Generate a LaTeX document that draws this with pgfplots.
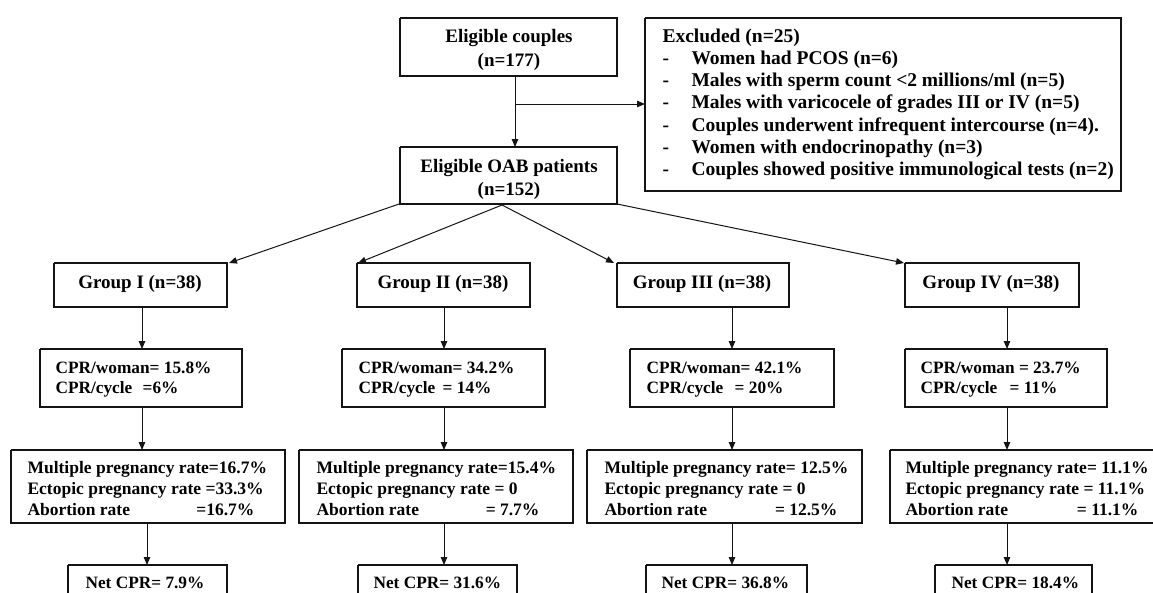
\documentclass[border=0pt]{standalone}
\usepackage{pgfplots}
\pgfplotsset{compat=1.18}
\usepackage{fontspec}
\setmainfont{Liberation Serif}
\usetikzlibrary{arrows.meta}
\definecolor{txt}{RGB}{22,22,40}
\definecolor{ln}{RGB}{20,20,20}
\newcommand\fb{\fontsize{19}{22}\selectfont\bfseries}
\newcommand\fe{\fontsize{19.5}{22}\selectfont\bfseries}
\newcommand\fs{\fontsize{17.3}{20}\selectfont\bfseries}
\newcommand\fm{\fontsize{17.5}{21}\selectfont\bfseries}
% box: x1 y1 x2 y2
\newcommand\flowbox[4]{\addplot[ln, line width=1.3pt, line join=miter] coordinates {(#1,#2) (#3,#2) (#3,#4) (#1,#4) (#1,#2)};}
\newcommand\flowarrow[4]{\addplot[ln, line width=1pt, -{Triangle[length=8pt,width=6.5pt]}] coordinates {(#1,#2) (#3,#4)};}
\begin{document}
\begin{tikzpicture}
\begin{axis}[name=ax, width=1153pt, height=592pt, scale only axis,
  xmin=0, xmax=1153, ymin=0, ymax=592, y dir=reverse,
  axis lines=none, clip=false,
  every node/.style={text=txt, inner sep=0pt}]
% ---------- boxes ----------
\flowbox{400}{18}{617}{76}
\flowbox{400}{147}{617}{204}
\flowbox{645}{18}{1121}{191}
\flowbox{54}{263}{227}{307}
\flowbox{357}{263}{530}{307}
\flowbox{617}{263}{789}{307}
\flowbox{905}{263}{1079}{307}
\flowbox{40}{349}{242}{407}
\flowbox{342}{349}{545}{407}
\flowbox{630}{349}{834}{407}
\flowbox{905}{349}{1107}{407}
\flowbox{11}{450}{285}{523}
\flowbox{299}{450}{573}{523}
\flowbox{587}{450}{862}{523}
\flowbox{890}{450}{1165}{523}
\flowbox{68}{565}{227}{612}
\flowbox{358}{565}{517}{612}
\flowbox{646}{565}{807}{612}
\flowbox{935}{565}{1092}{612}
% ---------- arrows ----------
\flowarrow{515}{76}{515}{147}
\flowarrow{515}{104}{645}{104}
\flowarrow{399}{204}{229}{263}
\flowarrow{502}{205}{358}{263}
\flowarrow{502}{205}{614}{263}
\flowarrow{617}{204}{904}{263}
\flowarrow{142}{307}{142}{349}
\flowarrow{444}{307}{444}{349}
\flowarrow{732}{307}{732}{349}
\flowarrow{1007}{307}{1007}{349}
\flowarrow{142}{407}{142}{450}
\flowarrow{444}{407}{444}{450}
\flowarrow{732}{407}{732}{450}
\flowarrow{1007}{407}{1007}{450}
\flowarrow{147}{523}{147}{565}
\flowarrow{444}{523}{444}{565}
\flowarrow{732}{523}{732}{565}
\flowarrow{1007}{523}{1007}{565}
% ---------- top texts ----------
\node[anchor=base, font=\fb] at (509,42) {Eligible couples};
\node[anchor=base, font=\fb] at (509,66) {(n=177)};
\node[anchor=base, font=\fb] at (509,172) {Eligible OAB patients};
\node[anchor=base, font=\fb] at (509,195) {(n=152)};
\node[anchor=base west, font=\fe] at (659,42) {Excluded (n=25)};
\node[anchor=base west, font=\fe] at (659,64.3) {-};
\node[anchor=base west, font=\fe] at (688,64.3) {Women had PCOS (n=6)};
\node[anchor=base west, font=\fe] at (659,86.6) {-};
\node[anchor=base west, font=\fe] at (688,86.6) {Males with sperm count <2 millions/ml (n=5)};
\node[anchor=base west, font=\fe] at (659,108.9) {-};
\node[anchor=base west, font=\fe] at (688,108.9) {Males with varicocele of grades III or IV (n=5)};
\node[anchor=base west, font=\fe] at (659,131.2) {-};
\node[anchor=base west, font=\fe] at (688,131.2) {Couples underwent infrequent intercourse (n=4).};
\node[anchor=base west, font=\fe] at (659,153.5) {-};
\node[anchor=base west, font=\fe] at (688,153.5) {Women with endocrinopathy (n=3)};
\node[anchor=base west, font=\fe] at (659,175.8) {-};
\node[anchor=base west, font=\fe] at (688,175.8) {Couples showed positive immunological tests (n=2)};
% ---------- groups ----------
\node[anchor=base, font=\fb] at (140,288) {Group I (n=38)};
\node[anchor=base, font=\fb] at (443,288) {Group II (n=38)};
\node[anchor=base, font=\fb] at (702,288) {Group III (n=38)};
\node[anchor=base, font=\fb] at (991,288) {Group IV (n=38)};
% ---------- CPR ----------
\node[anchor=base west, font=\fs] at (52,373) {CPR/woman= 15.8\%};
\node[anchor=base west, font=\fs] at (52,393) {CPR/cycle};
\node[anchor=base east, font=\fs] at (182,393) {=6\%};
\node[anchor=base west, font=\fs] at (355,373) {CPR/woman= 34.2\%};
\node[anchor=base west, font=\fs] at (355,393) {CPR/cycle};
\node[anchor=base east, font=\fs] at (495,393) {= 14\%};
\node[anchor=base west, font=\fs] at (643,373) {CPR/woman= 42.1\%};
\node[anchor=base west, font=\fs] at (643,393) {CPR/cycle};
\node[anchor=base east, font=\fs] at (787,393) {= 20\%};
\node[anchor=base west, font=\fs] at (917,373) {CPR/woman = 23.7\%};
\node[anchor=base west, font=\fs] at (917,393) {CPR/cycle};
\node[anchor=base east, font=\fs] at (1061,393) {= 11\%};
% ---------- Multiple ----------
\node[anchor=base west, font=\fm] at (24,473) {Multiple pregnancy rate=16.7\%};
\node[anchor=base west, font=\fm] at (24,494) {Ectopic pregnancy rate =33.3\%};
\node[anchor=base west, font=\fm] at (24,515) {Abortion rate};
\node[anchor=base east, font=\fm] at (258,515) {=16.7\%};
\node[anchor=base west, font=\fm] at (313,473) {Multiple pregnancy rate=15.4\%};
\node[anchor=base west, font=\fm] at (313,494) {Ectopic pregnancy rate = 0};
\node[anchor=base west, font=\fm] at (313,515) {Abortion rate};
\node[anchor=base east, font=\fm] at (543,515) {= 7.7\%};
\node[anchor=base west, font=\fm] at (601,473) {Multiple pregnancy rate= 12.5\%};
\node[anchor=base west, font=\fm] at (601,494) {Ectopic pregnancy rate = 0};
\node[anchor=base west, font=\fm] at (601,515) {Abortion rate};
\node[anchor=base east, font=\fm] at (841,515) {= 12.5\%};
\node[anchor=base west, font=\fm] at (902,473) {Multiple pregnancy rate= 11.1\%};
\node[anchor=base west, font=\fm] at (902,494) {Ectopic pregnancy rate = 11.1\%};
\node[anchor=base west, font=\fm] at (902,515) {Abortion rate};
\node[anchor=base east, font=\fm] at (1142,515) {= 11.1\%};
% ---------- Net ----------
\node[anchor=base west, font=\fs] at (82,588) {Net CPR= 7.9\%};
\node[anchor=base west, font=\fs] at (370,588) {Net CPR= 31.6\%};
\node[anchor=base west, font=\fs] at (658,588) {Net CPR= 36.8\%};
\node[anchor=base west, font=\fs] at (948,588) {Net CPR= 18.4\%};
\end{axis}
\pgfresetboundingbox
\path[use as bounding box] (ax.south west) rectangle (ax.north east);
\end{tikzpicture}
\end{document}
